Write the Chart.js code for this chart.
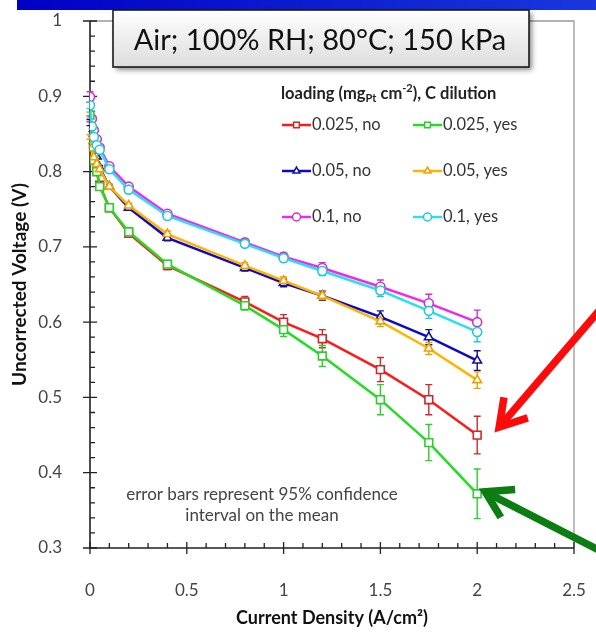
<!DOCTYPE html>
<html>
<head>
<meta charset="utf-8">
<script src="https://cdn.jsdelivr.net/npm/chart.js"></script>
<style>
  html, body { margin: 0; padding: 0; background: #fff; }
  #wrap { width: 596px; height: 635px; position: relative; }
</style>
</head>
<body>
<div id="wrap"><canvas id="polCurve" width="596" height="635"></canvas></div>
<script>
  // ---- data ----
  const currentDensity = [0, 0.01, 0.02, 0.035, 0.05, 0.1, 0.2, 0.4, 0.8, 1.0, 1.2, 1.5, 1.75, 2.0];

  const v025no  = [0.870, 0.840, 0.815, 0.800, 0.782, 0.752, 0.718, 0.675, 0.627, 0.600, 0.578, 0.537, 0.497, 0.450];
  const v025yes = [0.875, 0.835, 0.815, 0.800, 0.780, 0.752, 0.720, 0.677, 0.622, 0.590, 0.555, 0.497, 0.440, 0.372];
  const v05no   = [0.865, 0.850, 0.835, 0.820, 0.805, 0.780, 0.752, 0.712, 0.672, 0.652, 0.635, 0.607, 0.580, 0.549];
  const v05yes  = [0.846, 0.831, 0.819, 0.810, 0.803, 0.780, 0.755, 0.717, 0.675, 0.655, 0.635, 0.601, 0.565, 0.523];
  const v1no    = [0.899, 0.870, 0.855, 0.843, 0.832, 0.807, 0.780, 0.744, 0.706, 0.687, 0.672, 0.647, 0.625, 0.600];
  const v1yes   = [0.888, 0.860, 0.846, 0.835, 0.829, 0.803, 0.776, 0.741, 0.704, 0.685, 0.668, 0.642, 0.615, 0.587];

  // 95% confidence half-widths
  const e025no  = [0.004, 0.003, 0.003, 0.003, 0.003, 0.003, 0.004, 0.005, 0.007, 0.010, 0.012, 0.016, 0.020, 0.025];
  const e025yes = [0.004, 0.003, 0.003, 0.003, 0.003, 0.003, 0.004, 0.005, 0.006, 0.009, 0.014, 0.020, 0.024, 0.033];
  const e05no   = [0.004, 0.003, 0.003, 0.003, 0.003, 0.003, 0.003, 0.004, 0.004, 0.005, 0.006, 0.008, 0.010, 0.013];
  const e05yes  = [0.003, 0.003, 0.003, 0.003, 0.003, 0.003, 0.003, 0.004, 0.004, 0.005, 0.005, 0.007, 0.008, 0.011];
  const e1no    = [0.007, 0.003, 0.003, 0.003, 0.003, 0.003, 0.003, 0.004, 0.004, 0.005, 0.007, 0.009, 0.012, 0.016];
  const e1yes   = [0.004, 0.003, 0.003, 0.003, 0.003, 0.003, 0.003, 0.004, 0.004, 0.005, 0.006, 0.008, 0.010, 0.013];

  const seriesLabels = ['0.025, no', '0.025, yes', '0.05, no', '0.05, yes', '0.1, no', '0.1, yes'];
  const xTickLabels = ['0', '0.5', '1', '1.5', '2', '2.5'];
  const yTickLabels = ['0.3', '0.4', '0.5', '0.6', '0.7', '0.8', '0.9', '1'];

  const FONT = "Lato, 'Open Sans', sans-serif";
  Chart.defaults.font.family = FONT;

  const pts = vals => vals.map((v, i) => ({ x: currentDensity[i], y: v }));

  function series(label, vals, errs, color, barColor, style, radius, order) {
    return {
      label, data: pts(vals), errors: errs, barColor,
      showLine: true, borderColor: color, borderWidth: 2.5,
      pointStyle: style, pointRadius: radius, pointBorderWidth: 1.6,
      pointBackgroundColor: '#fff', pointBorderColor: barColor,
      order
    };
  }

  const datasets = [
    series(seriesLabels[0], v025no,  e025no,  '#ff1a1a', '#cc2a2a', 'rect',     5.5, 5),
    series(seriesLabels[1], v025yes, e025yes, '#22dd22', '#2ecc2e', 'rect',     5.5, 2),
    series(seriesLabels[2], v05no,   e05no,   '#0a0acc', '#10109a', 'triangle', 5,   4),
    series(seriesLabels[3], v05yes,  e05yes,  '#ffb400', '#eea000', 'triangle', 5,   1),
    series(seriesLabels[4], v1no,    e1no,    '#ee2aee', '#cc33cc', 'circle',   4.5, 3),
    series(seriesLabels[5], v1yes,   e1yes,   '#2ae0ee', '#22c8d8', 'circle',   4.5, 0)
  ];

  /* ═══ slide bits behind the plot ═══ */
  const backdrop = {
    id: 'backdrop',
    beforeDraw(chart) {
      const c = chart.ctx;
      c.save();
      const g = c.createLinearGradient(17, 0, 596, 0);
      g.addColorStop(0, '#0000c4');
      g.addColorStop(1, '#1838dc');
      c.fillStyle = g;
      c.fillRect(17, 0, 579, 10);
      c.restore();
    }
  };

  /* ═══ axes frame, crossing ticks, error bars ═══ */
  const frame = {
    id: 'frame',
    beforeDatasetsDraw(chart) {
      const c = chart.ctx, a = chart.chartArea;
      const xs = chart.scales.x, ys = chart.scales.y;
      c.save();
      // grey top/right border
      c.strokeStyle = '#9a9a9a'; c.lineWidth = 1.3;
      c.beginPath();
      c.moveTo(a.left, a.top); c.lineTo(a.right, a.top); c.lineTo(a.right, a.bottom);
      c.stroke();
      // black axes
      c.strokeStyle = '#222'; c.lineWidth = 1.6;
      c.beginPath();
      c.moveTo(a.left, a.top); c.lineTo(a.left, a.bottom); c.lineTo(a.right, a.bottom);
      c.stroke();
      c.lineWidth = 1.3;
      c.beginPath();
      for (let k = 0; k <= 35; k++) {
        const v = 0.3 + k * 0.02, py = ys.getPixelForValue(v);
        if (k % 5 === 0) { c.moveTo(a.left - 7, py); c.lineTo(a.left + 7, py); }
        else { c.moveTo(a.left, py); c.lineTo(a.left + 5, py); }
      }
      for (let k = 0; k <= 25; k++) {
        const px = xs.getPixelForValue(k * 0.1);
        if (k % 5 === 0) { c.moveTo(px, a.bottom - 6); c.lineTo(px, a.bottom + 6); }
        else { c.moveTo(px, a.bottom); c.lineTo(px, a.bottom - 5); }
      }
      c.stroke();
      // error bars
      chart.data.datasets.forEach(ds => {
        c.strokeStyle = ds.barColor; c.lineWidth = 1.4;
        c.beginPath();
        ds.data.forEach((p, i) => {
          const e = ds.errors[i];
          const px = xs.getPixelForValue(p.x);
          const top = ys.getPixelForValue(p.y + e), bot = ys.getPixelForValue(p.y - e);
          c.moveTo(px, top); c.lineTo(px, bot);
          c.moveTo(px - 3.5, top); c.lineTo(px + 3.5, top);
          c.moveTo(px - 3.5, bot); c.lineTo(px + 3.5, bot);
        });
        c.stroke();
      });
      c.restore();
    }
  };

  /* ═══ title box, legend, note, arrows ═══ */
  const overlay = {
    id: 'overlay',
    afterDraw(chart) {
      const c = chart.ctx;
      const xs = chart.scales.x, ys = chart.scales.y;
      c.save();

      // condition box
      c.save();
      c.shadowColor = 'rgba(0,0,0,0.45)'; c.shadowBlur = 5; c.shadowOffsetX = 3; c.shadowOffsetY = 3;
      const bg = c.createLinearGradient(0, 10, 0, 68);
      bg.addColorStop(0, '#ffffff'); bg.addColorStop(1, '#dcdcdc');
      c.fillStyle = bg;
      c.fillRect(113, 10, 416, 57);
      c.restore();
      c.strokeStyle = '#1a1a1a'; c.lineWidth = 1.6;
      c.strokeRect(113, 10, 416, 57);
      c.fillStyle = '#111';
      c.font = '29px ' + FONT;
      c.textAlign = 'center'; c.textBaseline = 'middle';
      c.fillText('Air; 100% RH; 80°C; 150 kPa', 320, 41);

      // legend title with sub/superscript
      c.textAlign = 'left'; c.textBaseline = 'alphabetic';
      c.fillStyle = '#222';
      let x = 281; const by = 99;
      const piece = (t, f, dy) => { c.font = f; c.fillText(t, x, by + dy); x += c.measureText(t).width; };
      piece('loading (mg', 'bold 16.5px ' + FONT, 0);
      piece('Pt', 'bold 11px ' + FONT, 3);
      piece(' cm', 'bold 16.5px ' + FONT, 0);
      piece('-2', 'bold 11px ' + FONT, -7);
      piece('), C dilution', 'bold 16.5px ' + FONT, 0);

      // legend entries
      const colX = [282, 413], rowY = [125, 171, 217];
      chart.data.datasets.forEach((ds, i) => {
        const lx = colX[i % 2], ly = rowY[Math.floor(i / 2)];
        c.strokeStyle = ds.borderColor; c.lineWidth = 2.5;
        c.beginPath(); c.moveTo(lx, ly); c.lineTo(lx + 29, ly); c.stroke();
        c.fillStyle = '#fff'; c.strokeStyle = ds.pointBorderColor; c.lineWidth = 1.5;
        Chart.helpers.drawPoint(c, { pointStyle: ds.pointStyle, radius: 4, rotation: 0, borderWidth: 1.5 }, lx + 14.5, ly);
        c.fillStyle = '#333';
        c.font = '16.5px ' + FONT; c.textBaseline = 'middle';
        c.fillText(ds.label, lx + 30, ly);
      });

      // note
      c.fillStyle = '#444'; c.font = '17px ' + FONT; c.textAlign = 'center';
      c.fillText('error bars represent 95% confidence', 262, 495);
      c.fillText('interval on the mean', 262, 516);

      // arrows pointing at the 2 A/cm² points
      const arrow = (tx, ty, fx, fy, col) => {
        c.strokeStyle = col; c.lineWidth = 7.5; c.lineCap = 'butt'; c.lineJoin = 'miter';
        c.beginPath(); c.moveTo(fx, fy); c.lineTo(tx, ty); c.stroke();
        const ang = Math.atan2(fy - ty, fx - tx), L = 30;
        c.beginPath();
        c.moveTo(tx + L * Math.cos(ang + 0.55), ty + L * Math.sin(ang + 0.55));
        c.lineTo(tx, ty);
        c.lineTo(tx + L * Math.cos(ang - 0.55), ty + L * Math.sin(ang - 0.55));
        c.stroke();
      };
      const n = currentDensity.length - 1;
      const rx = xs.getPixelForValue(currentDensity[n]), ry = ys.getPixelForValue(v025no[n]);
      arrow(rx + 22, ry - 8, rx + 125, ry - 128, '#ff0a0a');
      const gx = xs.getPixelForValue(currentDensity[n]), gy = ys.getPixelForValue(v025yes[n]);
      arrow(gx + 8, gy - 2, gx + 125, gy + 58, '#0b7d12');

      c.restore();
    }
  };

  new Chart(document.getElementById('polCurve'), {
    type: 'scatter',
    data: { datasets },
    options: {
      responsive: false, animation: false, devicePixelRatio: 1,
      layout: { padding: { top: 21, right: 22, left: 0, bottom: 0 } },
      plugins: { legend: { display: false }, tooltip: { enabled: false } },
      scales: {
        x: {
          type: 'linear', min: 0, max: 2.5,
          grid: { display: false }, border: { display: false },
          afterFit: s => { s.height = 87; s.paddingLeft = 0; s.paddingRight = 0; },
          ticks: {
            stepSize: 0.5, padding: 24, color: '#444', font: { size: 17 },
            callback: (v, i) => xTickLabels[i]
          },
          title: {
            display: true, text: 'Current Density (A/cm²)', color: '#111',
            font: { size: 18, weight: 'bold' }, padding: { top: 4, bottom: 6 }
          }
        },
        y: {
          type: 'linear', min: 0.3, max: 1,
          grid: { display: false }, border: { display: false },
          afterFit: s => { s.width = 90; s.paddingTop = 0; s.paddingBottom = 0; },
          ticks: {
            stepSize: 0.1, padding: 20, color: '#444', font: { size: 17 },
            callback: (v, i) => yTickLabels[i]
          },
          title: {
            display: true, text: 'Uncorrected Voltage (V)', color: '#111',
            font: { size: 19, weight: 'bold' }, padding: { top: 8, bottom: 4 }
          }
        }
      }
    },
    plugins: [backdrop, frame, overlay]
  });
</script>
</body>
</html>
